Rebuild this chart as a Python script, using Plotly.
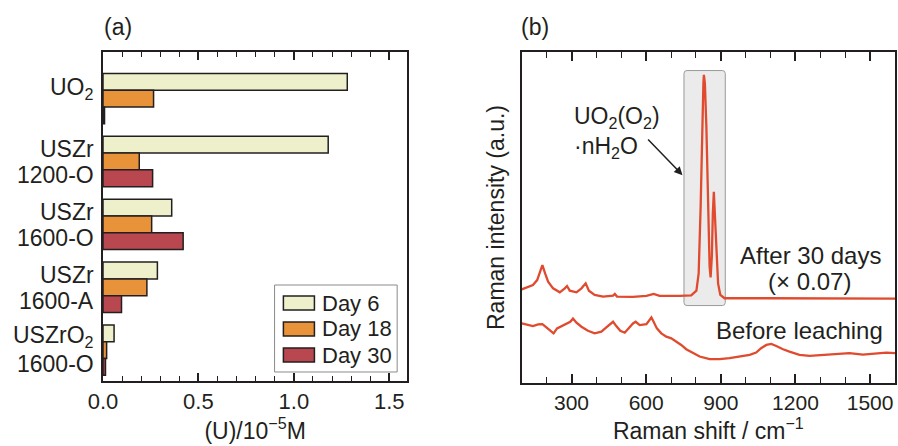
import plotly.graph_objects as go

# ---------------- data: panel (a) ----------------
sample_lines = [["UO<sub>2</sub>"], ["USZr", "1200-O"], ["USZr", "1600-O"], ["USZr", "1600-A"],
                ["USZrO<sub>2</sub>", "1600-O"]]
samples = [" ".join(s) for s in sample_lines]
days = ["Day 6", "Day 18", "Day 30"]
day6 = [1.28, 1.18, 0.36, 0.285, 0.058]
day18 = [0.265, 0.19, 0.255, 0.23, 0.019]
day30 = [0.008, 0.26, 0.42, 0.097, 0.013]
bar_colors = ["#eef0cc", "#e8923a", "#b9474f"]

# ---------------- data: panel (b) ----------------
after_x = [100, 125, 145, 162, 172, 183, 194, 206, 226, 253, 273, 282, 293, 320, 340, 357, 370,
           393, 427, 467, 474, 483, 547, 601, 630, 654, 735, 781, 802, 811, 819, 824, 830, 832,
           836, 842, 848, 855, 859, 864, 868, 872, 876, 882, 889, 898, 915, 1083, 1350, 1600]
after_y = [28.3, 28.9, 29.6, 31.1, 33.1, 35.6, 33.1, 30.6, 28.6, 27.4, 28.6, 29.3, 27.9, 27.4,
           28.6, 30.1, 27.9, 26.6, 26.1, 26.4, 26.9, 26.1, 26.0, 26.3, 26.9, 26.3, 26.3, 26.5,
           27.9, 33.1, 53.3, 73.4, 90.5, 93.1, 90.5, 77.5, 53.3, 35.2, 31.9, 38.2, 51.3, 57.8,
           51.3, 39.2, 30.1, 26.6, 25.6, 25.6, 25.5, 25.5]
before_x = [100, 125, 145, 166, 183, 199, 215, 228, 242, 259, 279, 295, 306, 320, 340, 366, 393,
            420, 440, 457, 467, 480, 496, 514, 531, 547, 558, 574, 601, 614, 621, 630, 643, 661,
            681, 701, 721, 741, 761, 788, 815, 855, 895, 935, 975, 1016, 1042, 1062, 1083, 1103,
            1123, 1150, 1176, 1216, 1257, 1310, 1364, 1417, 1471, 1524, 1565, 1600]
before_y = [18.0, 17.5, 17.2, 17.7, 17.8, 16.8, 15.8, 15.0, 16.5, 17.2, 17.8, 18.5, 19.5, 18.2,
            17.0, 15.8, 15.0, 15.5, 16.8, 18.0, 18.5, 17.2, 15.8, 15.2, 16.5, 18.0, 18.5, 17.5,
            17.8, 19.0, 19.8, 18.5, 16.5, 15.0, 14.0, 13.5, 12.5, 11.5, 10.2, 9.0, 8.0, 7.2, 7.2,
            7.5, 8.0, 8.5, 9.2, 10.5, 11.5, 11.8, 11.2, 10.2, 9.5, 8.5, 8.2, 8.5, 8.8, 9.0, 8.6,
            9.0, 9.2, 9.0]
raman_color = "#e04a2e"

INK = "#231f20"
FONT = "Liberation Sans, Arial, Helvetica, sans-serif"

fig = go.Figure()

for name, vals, col in zip(days, [day6, day18, day30], bar_colors):
    fig.add_trace(go.Bar(
        y=samples, x=vals, orientation="h", name=name,
        marker=dict(color=col, line=dict(color=INK, width=1.5)),
        xaxis="x", yaxis="y", showlegend=False))

fig.add_trace(go.Scatter(x=after_x, y=after_y, mode="lines", name="After 30 days",
                         line=dict(color=raman_color, width=2.3), xaxis="x2", yaxis="y2",
                         showlegend=False))
fig.add_trace(go.Scatter(x=before_x, y=before_y, mode="lines", name="Before leaching",
                         line=dict(color=raman_color, width=2.3), xaxis="x2", yaxis="y2",
                         showlegend=False))

axis_common = dict(showline=True, linewidth=2, linecolor=INK, showgrid=False, zeroline=False,
                   tickcolor=INK, tickwidth=1.5)

fig.update_layout(
    width=898, height=446,
    margin=dict(l=103, r=1, t=52, b=63),
    paper_bgcolor="white", plot_bgcolor="white",
    barmode="group", bargap=0.2, bargroupgap=0,
    font=dict(family=FONT, size=22, color=INK),
    xaxis=dict(domain=[0, 0.3841], range=[0, 1.594], tick0=0, dtick=0.5, tickformat=".1f",
               ticks="inside", ticklen=8, mirror="allticks", anchor="y",
               tickfont=dict(size=22),
               minor=dict(dtick=0.1, ticks="inside", ticklen=5, tickwidth=1.2, tickcolor=INK),
               title=dict(text="(U)/10<sup>\u22125</sup>M", font=dict(size=23), standoff=3),
               **axis_common),
    yaxis=dict(domain=[0.006, 1], type="category", range=[4.49, -0.74], ticks="",
               showticklabels=False, mirror=True, anchor="x", **axis_common),
    xaxis2=dict(domain=[0.5287, 1], range=[100, 1600], tick0=0, dtick=300,
                ticks="inside", ticklen=9, mirror="allticks", anchor="y2",
                tickfont=dict(size=21),
                minor=dict(dtick=100, ticks="inside", ticklen=6, tickwidth=1.2, tickcolor=INK),
                title=dict(text="Raman shift / cm<sup>\u22121</sup>", font=dict(size=23),
                           standoff=3),
                **axis_common),
    yaxis2=dict(domain=[0, 1], range=[0, 100], showticklabels=False, ticks="", mirror=True,
                anchor="x2", title=dict(text="Raman intensity (a.u.)", font=dict(size=23),
                                        standoff=9),
                **axis_common),
)

# category labels of panel (a), one annotation per text line
for cat, lines in zip(samples, sample_lines):
    if len(lines) == 1:
        shifts = [10]
    elif "<sub>" in lines[0]:
        shifts = [14, -14]
    else:
        shifts = [12, -14]
    for line, sh in zip(lines, shifts):
        fig.add_annotation(text=line, xref="x domain", yref="y", x=0, y=cat, xshift=-7,
                           yshift=sh, xanchor="right", yanchor="middle", showarrow=False,
                           font=dict(size=23))

# highlight box (rounded corners) around the peroxide peaks
bx0, bx1, by0, by1, rx, ry = 752, 918, 23.4, 94.4, 12, 0.9
box_path = (f"M {bx0+rx},{by0} L {bx1-rx},{by0} Q {bx1},{by0} {bx1},{by0+ry} "
            f"L {bx1},{by1-ry} Q {bx1},{by1} {bx1-rx},{by1} L {bx0+rx},{by1} "
            f"Q {bx0},{by1} {bx0},{by1-ry} L {bx0},{by0+ry} Q {bx0},{by0} {bx0+rx},{by0} Z")
fig.add_shape(type="path", xref="x2", yref="y2", path=box_path,
              fillcolor="#ebebeb", line=dict(color="#9a9a9a", width=1), layer="below")

# custom legend for panel (a)
leg_y = [0.2371, 0.1581, 0.079]
fig.add_shape(type="rect", xref="x domain", yref="y domain", x0=0.564, x1=0.967,
              y0=0.0274, y1=0.2918, line=dict(color="#8a8a8a", width=1), fillcolor="white")
for name, col, yc in zip(days, bar_colors, leg_y):
    fig.add_shape(type="rect", xref="x domain", yref="y domain", x0=0.593, x1=0.695,
                  y0=yc - 0.0213, y1=yc + 0.0213, fillcolor=col,
                  line=dict(color=INK, width=1.5))
    fig.add_annotation(text=name, xref="x domain", yref="y domain", x=0.714, y=yc,
                       xanchor="left", yanchor="middle", showarrow=False,
                       font=dict(size=22))

# panel labels
fig.add_annotation(text="(a)", xref="x domain", yref="y domain", x=-0.004, y=1.076,
                   xanchor="left", yanchor="middle", showarrow=False, font=dict(size=23))
fig.add_annotation(text="(b)", xref="x2 domain", yref="y2 domain", x=-0.006, y=1.0755,
                   xanchor="left", yanchor="middle", showarrow=False, font=dict(size=23))

# panel (b) texts
fig.add_annotation(text="UO<sub>2</sub>(O<sub>2</sub>)<br>\u00b7nH<sub>2</sub>O",
                   xref="x2", yref="y2", x=301, y=75.7, xanchor="left", yanchor="middle",
                   align="left", showarrow=False, font=dict(size=23))
fig.add_annotation(text="", xref="x2", yref="y2", x=746, y=62.8, axref="x2", ayref="y2",
                   ax=602, ay=74.0, showarrow=True, arrowhead=2, arrowsize=1.1,
                   arrowwidth=1.5, arrowcolor=INK)
fig.add_annotation(text="After 30 days", xref="x2", yref="y2", x=1259, y=38.4,
                   xanchor="center", yanchor="middle", showarrow=False, font=dict(size=24))
fig.add_annotation(text="(\u00d7 0.07)", xref="x2", yref="y2", x=1255, y=30.8,
                   xanchor="center", yanchor="middle", showarrow=False, font=dict(size=24))
fig.add_annotation(text="Before leaching", xref="x2", yref="y2", x=1217, y=16.0,
                   xanchor="center", yanchor="middle", showarrow=False, font=dict(size=24))

fig.write_html("out.html", config={"displayModeBar": False},
               post_script="document.body.style.margin='0px';document.body.style.padding='0px';")
